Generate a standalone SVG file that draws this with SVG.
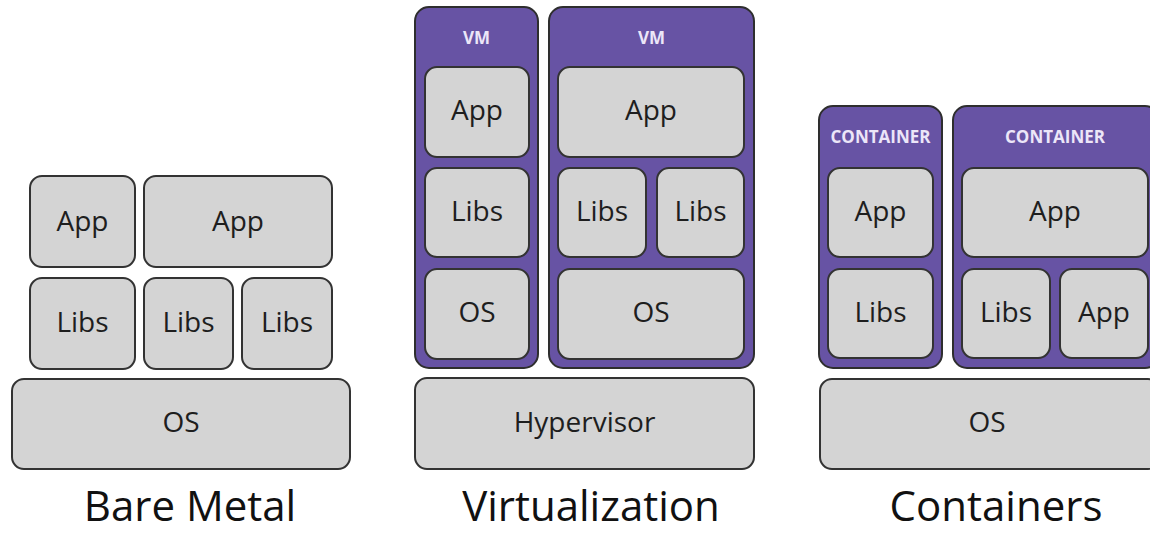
<svg xmlns="http://www.w3.org/2000/svg" width="1150" height="533" viewBox="0 0 1150 533">
<style>
.box{fill:#d4d4d4;stroke:#333;stroke-width:2}
.vm{fill:#6753a4;stroke:#2e2e2e;stroke-width:2}
.t{font-family:"Open Sans","Noto Sans",sans-serif;font-size:28px;fill:#1e1e1e;text-anchor:middle}
.lbl{font-family:"Open Sans","Noto Sans",sans-serif;font-size:17px;font-weight:bold;fill:#ece6f8;text-anchor:middle}
.title{font-family:"Open Sans","Noto Sans",sans-serif;font-size:42px;fill:#111;text-anchor:middle}
</style>
<rect width="1150" height="533" fill="#fff"/>
<g id="bare-metal">
  <g id="bm-app1"><rect class="box" x="30" y="176" width="105" height="91" rx="12"/><text class="t" x="82.5" y="231">App</text></g>
  <g id="bm-app2"><rect class="box" x="144" y="176" width="188" height="91" rx="12"/><text class="t" x="238" y="231">App</text></g>
  <g id="bm-libs1"><rect class="box" x="30" y="278" width="105" height="91" rx="12"/><text class="t" x="82.5" y="332">Libs</text></g>
  <g id="bm-libs2"><rect class="box" x="144" y="278" width="89" height="91" rx="12"/><text class="t" x="188.5" y="332">Libs</text></g>
  <g id="bm-libs3"><rect class="box" x="242" y="278" width="90" height="91" rx="12"/><text class="t" x="287" y="332">Libs</text></g>
  <g id="bm-os"><rect class="box" x="12" y="379" width="338" height="90" rx="12"/><text class="t" x="181" y="432">OS</text></g>
  <text class="title" x="190" y="521">Bare Metal</text>
</g>
<g id="virtualization">
  <g id="vm1"><rect class="vm" x="415" y="7" width="123" height="361" rx="14"/><text class="lbl" x="476.5" y="44">VM</text>
    <g id="vm1-app"><rect class="box" x="425" y="67" width="104" height="90" rx="12"/><text class="t" x="477" y="120">App</text></g>
    <g id="vm1-libs"><rect class="box" x="425" y="168" width="104" height="89" rx="12"/><text class="t" x="477" y="221">Libs</text></g>
    <g id="vm1-os"><rect class="box" x="425" y="269" width="104" height="90" rx="12"/><text class="t" x="477" y="322">OS</text></g>
  </g>
  <g id="vm2"><rect class="vm" x="549" y="7" width="205" height="361" rx="14"/><text class="lbl" x="651.5" y="44">VM</text>
    <g id="vm2-app"><rect class="box" x="558" y="67" width="186" height="90" rx="12"/><text class="t" x="651" y="120">App</text></g>
    <g id="vm2-libs1"><rect class="box" x="558" y="168" width="88" height="89" rx="12"/><text class="t" x="602" y="221">Libs</text></g>
    <g id="vm2-libs2"><rect class="box" x="657" y="168" width="87" height="89" rx="12"/><text class="t" x="700.5" y="221">Libs</text></g>
    <g id="vm2-os"><rect class="box" x="558" y="269" width="186" height="90" rx="12"/><text class="t" x="651" y="322">OS</text></g>
  </g>
  <g id="hypervisor"><rect class="box" x="415" y="378" width="339" height="91" rx="12"/><text class="t" x="584.5" y="432">Hypervisor</text></g>
  <text class="title" x="591" y="521">Virtualization</text>
</g>
<g id="containers">
  <g id="c1"><rect class="vm" x="819" y="106" width="123" height="262" rx="14"/><text class="lbl" x="880.5" y="143">CONTAINER</text>
    <g id="c1-app"><rect class="box" x="828" y="168" width="105" height="89" rx="12"/><text class="t" x="880.5" y="221">App</text></g>
    <g id="c1-libs"><rect class="box" x="828" y="269" width="105" height="89" rx="12"/><text class="t" x="880.5" y="322">Libs</text></g>
  </g>
  <g id="c2"><rect class="vm" x="953" y="106" width="206" height="262" rx="14"/><text class="lbl" x="1055" y="143">CONTAINER</text>
    <g id="c2-app"><rect class="box" x="962" y="168" width="186" height="89" rx="12"/><text class="t" x="1055" y="221">App</text></g>
    <g id="c2-libs"><rect class="box" x="962" y="269" width="88" height="89" rx="12"/><text class="t" x="1006" y="322">Libs</text></g>
    <g id="c2-app2"><rect class="box" x="1060" y="269" width="88" height="89" rx="12"/><text class="t" x="1104" y="322">App</text></g>
  </g>
  <g id="c-os"><rect class="box" x="820" y="379" width="340" height="90" rx="12"/><text class="t" x="987" y="432">OS</text></g>
  <text class="title" x="996" y="521">Containers</text>
</g>
<g id="connectors"/>
</svg>
